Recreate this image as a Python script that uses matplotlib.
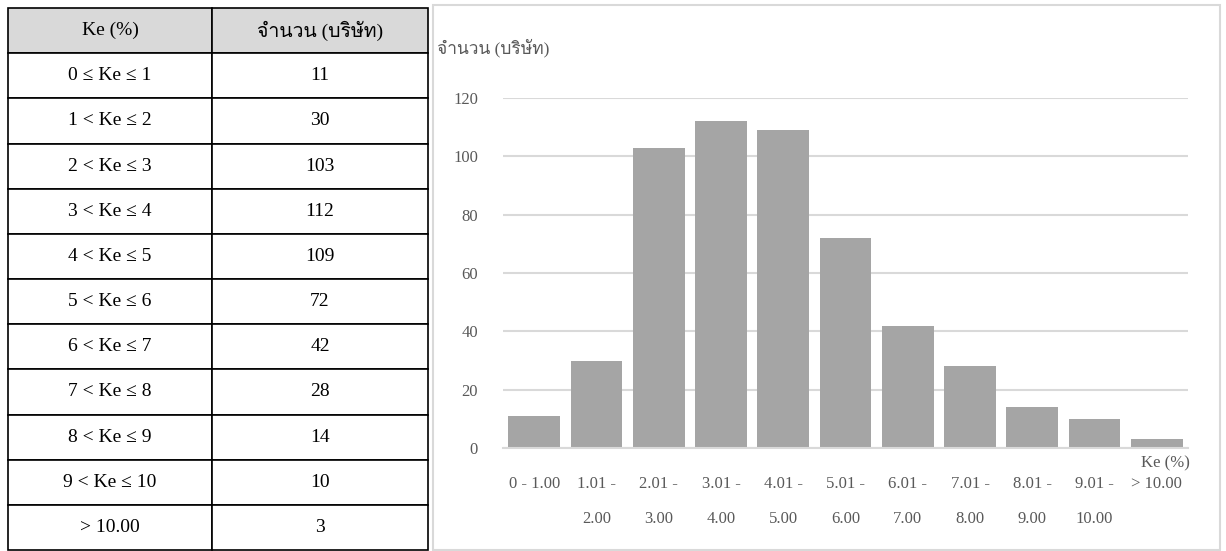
import matplotlib
matplotlib.use("Agg")
import matplotlib.pyplot as plt
from matplotlib import font_manager
from matplotlib.ft2font import FT2Font
from matplotlib.patches import Rectangle

# data
bins_table = ["0 ≤ Ke ≤ 1", "1 < Ke ≤ 2", "2 < Ke ≤ 3", "3 < Ke ≤ 4", "4 < Ke ≤ 5",
              "5 < Ke ≤ 6", "6 < Ke ≤ 7", "7 < Ke ≤ 8", "8 < Ke ≤ 9", "9 < Ke ≤ 10", "> 10.00"]
bins_chart = ["0 - 1.00", "1.01 -\n2.00", "2.01 -\n3.00", "3.01 -\n4.00", "4.01 -\n5.00",
              "5.01 -\n6.00", "6.01 -\n7.00", "7.01 -\n8.00", "8.01 -\n9.00", "9.01 -\n10.00", "> 10.00"]
counts = [11, 30, 103, 112, 109, 72, 42, 28, 14, 10, 3]
col_headers = ["Ke (%)", "จำนวน (บริษัท)"]
y_label = "จำนวน (บริษัท)"
x_label = "Ke (%)"


def find_thai_font():
    found = []
    for f in font_manager.fontManager.ttflist:
        try:
            ft = FT2Font(f.fname)
            if ft.get_char_index(ord("จ")):
                found.append(f.name)
        except Exception:
            pass
    return found

thai_fonts = find_thai_font()
serif = ["Liberation Serif"] + thai_fonts[:1] + ["DejaVu Sans"]

W, H = 1226, 551
fig = plt.figure(figsize=(W / 100, H / 100), dpi=100)

# table
tax = fig.add_axes([8 / W, 1 - 550 / H, 420 / W, 542 / H])
tax.axis("off")
cells = [[b, str(c)] for b, c in zip(bins_table, counts)]
tbl = tax.table(cellText=cells, colLabels=col_headers, bbox=[0, 0, 1, 1],
                cellLoc="center", colWidths=[204, 216])
tbl.auto_set_font_size(False)
for (r, c), cell in tbl.get_celld().items():
    cell.set_edgecolor("black")
    cell.set_linewidth(1.2)
    cell.get_text().set_fontsize(14)
    cell.get_text().set_family(serif)
    if r == 0:
        cell.set_facecolor("#d9d9d9")

# chart frame
fig.patches.append(Rectangle((433 / W, 1 - 550 / H), 787 / W, 545 / H,
                             transform=fig.transFigure, fill=False,
                             edgecolor="#d9d9d9", linewidth=1.5))

ax = fig.add_axes([503 / W, 103 / H, 685 / W, 350 / H])
x = range(len(counts))
ax.bar(x, counts, width=0.83, color="#a5a5a5", zorder=2)
ax.set_xlim(-0.5, len(counts) - 0.5)
ax.set_ylim(0, 120)
ax.set_yticks(range(0, 121, 20))
ax.grid(axis="y", color="#d9d9d9", linewidth=1.5, zorder=0)
for s in ["top", "right", "left"]:
    ax.spines[s].set_visible(False)
ax.spines["bottom"].set_color("#d9d9d9")
ax.spines["bottom"].set_linewidth(1.5)
ax.set_xticks(list(x))
ax.set_xticklabels(bins_chart, linespacing=2.6)
ax.tick_params(length=0, labelcolor="#595959", labelsize=12)
ax.tick_params(axis="y", pad=18)
ax.tick_params(axis="x", pad=20)
for t in ax.get_xticklabels() + ax.get_yticklabels():
    t.set_family(serif)

fig.text(437 / W, 1 - 48 / H, y_label, color="#595959", fontsize=12.5,
         family=serif, va="center", ha="left")
fig.text(1190 / W, 1 - 463 / H, x_label, color="#595959", fontsize=12,
         family=serif, va="center", ha="right")

fig.savefig("out.png", dpi=100)
